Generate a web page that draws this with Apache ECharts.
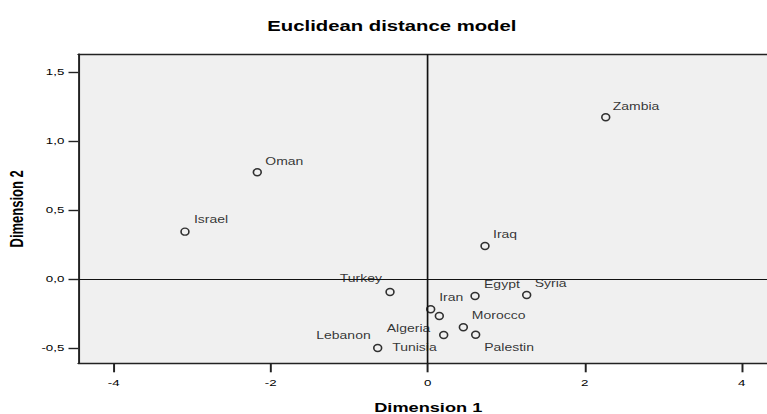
<!DOCTYPE html>
<html>
<head>
<meta charset="utf-8">
<script src="https://cdn.jsdelivr.net/npm/echarts@6/dist/echarts.min.js"></script>
<style>
html,body{margin:0;padding:0;background:#fff;overflow:hidden;width:767px;height:414px;}
#c{width:548px;height:414px;transform:scaleX(1.3996);transform-origin:0 0;}
</style>
</head>
<body>
<div id="c"></div>
<script>
// ---- data ----
const countries = ['Zambia','Oman','Israel','Iraq','Turkey','Egypt','Syria','Iran','Algeria','Morocco','Palestin','Tunisia','Lebanon'];
const dim1 = [2.268,-2.171,-3.092,0.730,-0.480,0.603,1.261,0.038,0.148,0.454,0.611,0.204,-0.637];
const dim2 = [1.172,0.773,0.343,0.239,-0.094,-0.123,-0.116,-0.220,-0.268,-0.350,-0.404,-0.406,-0.500];
const xTicks = [-4,-2,0,2,4];
const yTicks = [-0.5,0,0.5,1,1.5];

// ---- layout (label placement, page pixels relative to point) ----
const S = 767/548;
const labelPlace = {
  Zambia:['left',7,-11], Oman:['left',8,-11], Israel:['left',9,-12], Iraq:['left',8,-11],
  Turkey:['right',-8,-13], Egypt:['left',9,-11], Syria:['left',8,-11], Iran:['left',8.5,-11.5],
  Algeria:['right',-9,13], Morocco:['left',8.5,-12], Palestin:['left',8.5,13], Tunisia:['right',-7,13],
  Lebanon:['right',-7,-12]
};
const FONT = "'Liberation Sans', Arial, sans-serif";

const pts = countries.map((n,i)=>{
  const p = labelPlace[n];
  return {name:n, value:[dim1[i], dim2[i]],
    label:{show:true, position:'inside', align:p[0], verticalAlign:'middle', offset:[p[1]/S, p[2]]}};
});

const chart = echarts.init(document.getElementById('c'), null, {renderer:'svg', width:548, height:414});
const xMin = -4.451, xMax = 4.322, yMin = -0.611, yMax = 1.628;
chart.setOption({
  animation:false,
  backgroundColor:'#ffffff',
  title:{text:'Euclidean distance model', left:191, top:19, padding:0,
    textStyle:{fontFamily:FONT, fontSize:14.5, fontWeight:'bold', color:'#000'}},
  grid:{left:78.3/S, right:0, top:54.3, bottom:50.7, show:true, backgroundColor:'#f0f0f0', borderWidth:0,
    outerBoundsMode:'none', containLabel:false},
  xAxis:[{
    type:'value', min:xMin, max:xMax, position:'bottom',
    name:'Dimension 1', nameLocation:'middle', nameGap:38,
    nameTextStyle:{fontFamily:FONT, fontSize:13, fontWeight:'bold', color:'#000', padding:[0,0,0,8]},
    axisLine:{show:true, onZero:false, lineStyle:{color:'#222', width:1.4}},
    axisTick:{show:true, customValues:xTicks, length:9, lineStyle:{color:'#222', width:1.4}},
    axisLabel:{customValues:xTicks, margin:14, fontFamily:FONT, fontSize:9.5, color:'#000',
      formatter:v=>String(Math.round(v))},
    splitLine:{show:false}
  },{
    type:'value', min:xMin, max:xMax, position:'top',
    axisLine:{show:true, onZero:false, lineStyle:{color:'#222', width:1.4}},
    axisTick:{show:false}, axisLabel:{show:false}, splitLine:{show:false}
  }],
  yAxis:{
    type:'value', min:yMin, max:yMax,
    name:'Dimension 2', nameLocation:'middle', nameGap:29,
    nameTextStyle:{fontFamily:FONT, fontSize:13, fontWeight:'bold', color:'#000'},
    axisLine:{show:true, onZero:false, lineStyle:{color:'#222', width:1.4}},
    axisTick:{show:true, customValues:yTicks, length:7, lineStyle:{color:'#222', width:1.4}},
    axisLabel:{customValues:yTicks, margin:10, fontFamily:FONT, fontSize:9.5, color:'#000',
      formatter:v=>v.toFixed(1).replace('.', ',')},
    splitLine:{show:false}
  },
  series:[{
    type:'scatter',
    symbol:'path://M0,5A5,5,0,1,1,10,5A5,5,0,1,1,0,5Z',
    symbolSize:[5.6,7],
    itemStyle:{color:'#f0f0f0', borderColor:'#000', borderWidth:1.3},
    label:{fontFamily:FONT, fontSize:10, color:'#000', formatter:'{b}'},
    emphasis:{disabled:true},
    silent:true,
    data:pts,
    markLine:{
      silent:true, symbol:'none', animation:false,
      label:{show:false},
      lineStyle:{color:'#111', width:1.2, type:'solid'},
      emphasis:{disabled:true},
      data:[{xAxis:0},{yAxis:0}]
    }
  }]
});
</script>
</body>
</html>
